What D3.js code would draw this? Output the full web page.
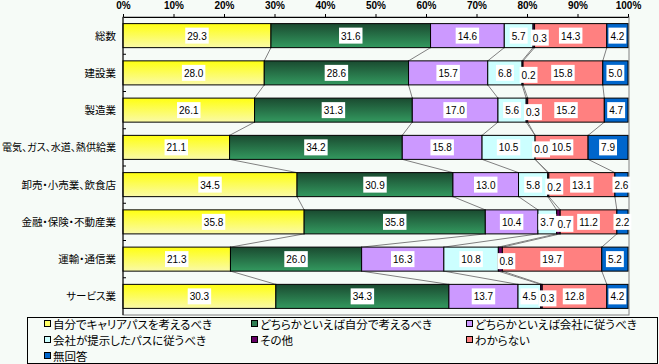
<!DOCTYPE html>
<html>
<head>
<meta charset="utf-8">
<script src="https://cdn.jsdelivr.net/npm/d3@7"></script>
<style>
  body { margin: 0; background: #f6fbf7; }
  svg { display: block; font-family: "Noto Sans CJK JP", sans-serif; font-feature-settings: "palt"; }
</style>
</head>
<body>
<svg width="659" height="364"></svg>
<script>
const categories = ['総数', '建設業', '製造業', '電気、ガス、水道、熱供給業', '卸売・小売業、飲食店', '金融・保険・不動産業', '運輸・通信業', 'サービス業'];
const seriesNames = ['自分でキャリアパスを考えるべき', 'どちらかといえば自分で考えるべき', 'どちらかといえば会社に従うべき', '会社が提示したパスに従うべき', 'その他', 'わからない', '無回答'];
const selfPath = [29.3, 28.0, 26.1, 21.1, 34.5, 35.8, 21.3, 30.3];
const ratherSelf = [31.6, 28.6, 31.3, 34.2, 30.9, 35.8, 26.0, 34.3];
const ratherCompany = [14.6, 15.7, 17.0, 15.8, 13.0, 10.4, 16.3, 13.7];
const companyPath = [5.7, 6.8, 5.6, 10.5, 5.8, 3.7, 10.8, 4.5];
const other = [0.3, 0.2, 0.3, 0.0, 0.2, 0.7, 0.8, 0.3];
const unknown = [14.3, 15.8, 15.2, 10.5, 13.1, 11.2, 19.7, 12.8];
const noAnswer = [4.2, 5.0, 4.7, 7.9, 2.6, 2.2, 5.2, 4.2];
const xTicks = [0, 10, 20, 30, 40, 50, 60, 70, 80, 90, 100];

const series = [selfPath, ratherSelf, ratherCompany, companyPath, other, unknown, noAnswer];
const fills = ['url(#gYellow)', 'url(#gGreen)', '#cc99ff', '#ccffff', '#660066', '#ff8080', '#0066cc'];
const legendFills = ['#ffff66', '#2e7d52', '#cc99ff', '#ccffff', '#660066', '#ff8080', '#0066cc'];

const svg = d3.select('svg');
const plotLeft = 123, plotRight = 628, plotTop = 17, plotBottom = 315;

const defs = svg.append('defs');
const grad = (id, c1, c2) => {
  const g = defs.append('linearGradient').attr('id', id)
    .attr('x1', 0).attr('y1', 0).attr('x2', 0).attr('y2', 1);
  g.append('stop').attr('offset', '0%').attr('stop-color', c1);
  g.append('stop').attr('offset', '100%').attr('stop-color', c2);
};
grad('gYellow', '#ffff10', '#fafaa8');
grad('gGreen', '#1a4a30', '#33995f');

const x = d3.scaleLinear().domain([0, 100]).range([plotLeft, plotRight]);
const y = d3.scaleBand().domain(categories).range([plotTop, plotBottom])
  .paddingInner(0.355).paddingOuter(0.1775);

// stacked rows normalised to 100%
const rows = categories.map((c, i) => {
  const vals = series.map(s => s[i]);
  const total = d3.sum(vals);
  let acc = 0;
  return vals.map((v, k) => {
    const x0 = acc / total * 100;
    acc += v;
    return { cat: c, k: k, v: v, x0: x0, x1: acc / total * 100 };
  });
});

// plot frame
svg.append('rect')
  .attr('x', plotLeft).attr('y', plotTop)
  .attr('width', plotRight - plotLeft + 1).attr('height', plotBottom - plotTop)
  .attr('fill', 'none').attr('stroke', '#808080');

// connector lines
const conn = svg.append('g').attr('stroke', '#808080').attr('stroke-width', 1);
for (let i = 0; i < rows.length - 1; i++) {
  for (let k = 0; k < series.length - 1; k++) {
    conn.append('line')
      .attr('x1', x(rows[i][k].x1)).attr('y1', y(categories[i]) + y.bandwidth())
      .attr('x2', x(rows[i + 1][k].x1)).attr('y2', y(categories[i + 1]));
  }
}

// bars
const barG = svg.append('g');
rows.forEach(row => {
  barG.selectAll(null).data(row).enter().append('rect')
    .attr('x', d => x(d.x0))
    .attr('y', d => y(d.cat))
    .attr('width', d => x(d.x1) - x(d.x0))
    .attr('height', y.bandwidth())
    .attr('fill', d => fills[d.k])
    .attr('stroke', '#000')
    .attr('stroke-width', 1);
});

// value labels (the tiny "その他" ones sit a little right/down, like the original)
const labG = svg.append('g').style('font-family', 'Arial, "Liberation Sans", sans-serif').style('font-size', '10px');
rows.forEach(row => {
  row.forEach(d => {
    const small = d.k === 4;
    const cx = (x(d.x0) + x(d.x1)) / 2 + (small ? 6 : 0);
    const cy = y(d.cat) + y.bandwidth() / 2 + (small ? 2 : 0);
    const g = labG.append('g');
    const t = g.append('text')
      .attr('x', cx).attr('y', cy + 4)
      .attr('text-anchor', 'middle')
      .attr('fill', '#000')
      .text(d.v.toFixed(1));
    const w = t.node().getComputedTextLength();
    g.insert('rect', 'text')
      .attr('x', cx - w / 2 - 2).attr('y', cy - 8)
      .attr('width', w + 4).attr('height', 16)
      .attr('fill', '#fff');
  });
});

// top axis
const xAxis = d3.axisTop(x).tickValues(xTicks).tickSize(3).tickSizeOuter(0).tickPadding(5)
  .tickFormat(d => d + '%');
const xg = svg.append('g').attr('transform', 'translate(0,' + plotTop + ')').call(xAxis);
xg.selectAll('text').style('font-size', '10px').style('font-weight', 'bold')
  .style('font-family', 'Arial, "Liberation Sans", sans-serif').attr('fill', '#000');
xg.select('.domain').attr('stroke', '#000');
xg.selectAll('.tick line').attr('stroke', '#000');

// left axis
svg.append('line').attr('x1', plotLeft).attr('x2', plotLeft).attr('y1', plotTop).attr('y2', plotBottom).attr('stroke', '#000');
const gap = y.step() - y.bandwidth();
categories.forEach((c, i) => {
  if (i > 0) {
    const ty = y(c) - gap / 2;
    svg.append('line').attr('x1', plotLeft).attr('x2', plotLeft + 3).attr('y1', ty).attr('y2', ty).attr('stroke', '#000');
  }
});
svg.append('g').selectAll('text').data(categories).enter().append('text')
  .attr('x', 116)
  .attr('y', d => y(d) + y.bandwidth() / 2 + 4)
  .attr('text-anchor', 'end')
  .style('font-size', '10.5px')
  .text(d => d)
  .each(function() {
    // squeeze the long label so it stays inside the picture
    if (this.getComputedTextLength() > 114) {
      d3.select(this).attr('textLength', 114).attr('lengthAdjust', 'spacingAndGlyphs');
    }
  });

// legend
svg.append('rect').attr('x', 27.5).attr('y', 317.5).attr('width', 630).attr('height', 46)
  .attr('fill', '#f6fbf7').attr('stroke', '#000');
const colX = [44, 251, 466];
const rowY = [324, 340, 356];
seriesNames.forEach((name, k) => {
  const lx = colX[k % 3], ly = rowY[Math.floor(k / 3)];
  svg.append('rect').attr('x', lx + 0.5).attr('y', ly - 3.5).attr('width', 6).attr('height', 6)
    .attr('fill', legendFills[k]).attr('stroke', '#000');
  svg.append('text').attr('x', lx + 9).attr('y', ly + 4.5)
    .style('font-size', '11.5px').text(name);
});
</script>
</body>
</html>
